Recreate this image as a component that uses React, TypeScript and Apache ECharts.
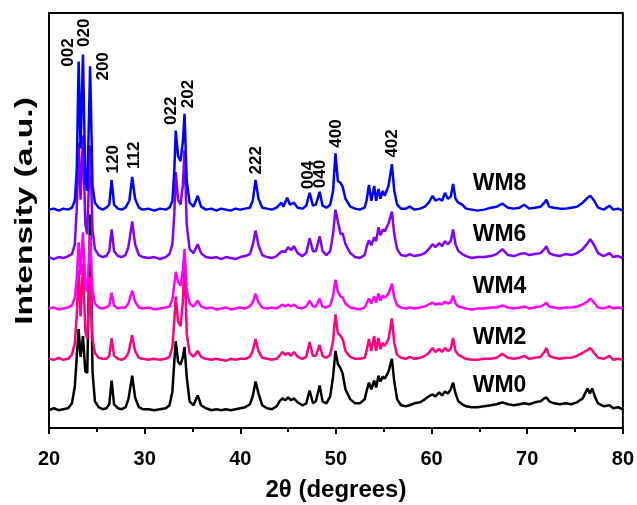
import React, { useEffect, useRef } from 'react';
import * as echarts from 'echarts';

// Samples, bottom to top
const samples = ['WM0', 'WM2', 'WM4', 'WM6', 'WM8'];
const colors = ['#000000', '#FF0080', '#FF00FF', '#8000FF', '#0000FF'];
const offsets = [17, 68, 120, 171, 220];

// [2θ, intensity above own baseline]
const wm0: number[][] = [[20,1],[20.5,3],[21,1],[21.5,2],[22,3],[22.4,8],[22.7,25],[22.9,55],[23.1,83],[23.3,55],[23.55,76],[23.8,40],[24.0,39],[24.3,199],[24.55,40],[24.8,10],[25.2,4],[25.6,2],[26.0,3],[26.3,7],[26.55,31],[26.8,7],[27.2,3],[27.6,2],[28.0,4],[28.3,12],[28.7,36],[29.0,14],[29.4,4],[29.8,2],[30.4,2],[31,1],[31.6,2],[32.2,3],[32.6,6],[32.9,20],[33.1,50],[33.25,71],[33.5,50],[33.75,47],[34.0,55],[34.17,65],[34.4,35],[34.7,10],[35.1,6],[35.55,16],[35.9,6],[36.4,3],[37,1],[37.5,2],[38,1],[38.5,2],[39,1],[39.5,2],[40,3],[40.5,4],[41,7],[41.3,15],[41.6,30],[41.9,18],[42.3,6],[42.8,3],[43.3,2],[43.8,5],[44.1,10],[44.4,13],[44.7,11],[45.0,14],[45.3,11],[45.6,13],[46,9],[46.5,6],[46.9,8],[47.25,21],[47.6,8],[47.9,10],[48.3,26],[48.6,10],[49,8],[49.4,15],[49.7,35],[49.95,61],[50.2,48],[50.5,43],[50.7,38],[51.0,22],[51.5,12],[52,8],[52.5,8],[53.0,12],[53.2,20],[53.45,29],[53.7,22],[54.0,31],[54.2,24],[54.45,36],[54.65,30],[54.9,35],[55.1,33],[55.5,40],[55.85,53],[56.1,30],[56.4,12],[56.8,6],[57.3,5],[57.7,6],[58.2,8],[58.8,9],[59.3,12],[59.7,15],[60.1,17],[60.4,15],[60.8,19],[61.1,16],[61.4,20],[61.7,18],[62,22],[62.25,29],[62.5,18],[62.8,10],[63.2,7],[63.6,5],[64.2,4],[64.8,4],[65.5,5],[66.2,6],[66.8,7],[67.4,9],[68,7],[68.6,6],[69.2,7],[69.7,8],[70.2,7],[70.8,9],[71.4,10],[71.8,13],[72.0,14],[72.3,10],[72.8,8],[73.4,7],[74,8],[74.6,7],[75.2,9],[75.8,13],[76.3,23],[76.55,18],[76.8,23],[77.1,14],[77.4,8],[78,5],[78.6,6],[79,3],[79.5,4],[80,2]];

const wm2: number[][] = [[20,2],[20.5,1],[21,3],[21.5,1],[22,2],[22.4,6],[22.7,18],[22.9,45],[23.1,92],[23.3,45],[23.55,98],[23.8,30],[24.0,22],[24.3,85],[24.55,22],[24.8,8],[25.2,3],[25.6,2],[26.0,2],[26.3,5],[26.55,23],[26.8,5],[27.2,2],[27.6,1],[28.0,3],[28.3,8],[28.7,26],[29.0,10],[29.4,3],[29.8,2],[30.4,1],[31,2],[31.6,1],[32.2,2],[32.6,4],[32.9,14],[33.1,40],[33.25,65],[33.5,40],[33.75,35],[34.0,60],[34.17,108],[34.4,28],[34.7,8],[35.1,4],[35.55,10],[35.9,4],[36.4,2],[37,1],[37.5,2],[38,1],[38.5,0],[39,2],[39.5,1],[40,2],[40.5,2],[41,4],[41.3,10],[41.6,22],[41.9,10],[42.3,3],[42.8,2],[43.3,1],[43.8,2],[44.1,5],[44.4,9],[44.7,6],[45.0,8],[45.3,5],[45.6,9],[46,4],[46.5,2],[46.9,4],[47.25,19],[47.6,5],[47.9,5],[48.3,16],[48.6,5],[49,3],[49.4,6],[49.7,20],[49.95,47],[50.2,28],[50.5,25],[50.7,22],[51.0,10],[51.5,4],[52,2],[52.5,2],[53.0,3],[53.2,10],[53.45,22],[53.7,10],[54.0,25],[54.2,10],[54.45,23],[54.65,12],[54.9,18],[55.1,15],[55.5,22],[55.85,43],[56.1,18],[56.4,6],[56.8,3],[57.3,2],[57.7,4],[58.2,2],[58.8,3],[59.3,5],[59.7,8],[60.1,13],[60.4,9],[60.8,12],[61.1,9],[61.4,13],[61.7,10],[62,12],[62.25,23],[62.5,10],[62.8,6],[63.2,4],[63.6,2],[64.2,1],[64.8,1],[65.5,2],[66.2,2],[66.8,3],[67.4,7],[68,3],[68.6,2],[69.2,3],[69.7,5],[70.2,2],[70.8,3],[71.4,4],[71.8,9],[72.0,13],[72.3,5],[72.8,3],[73.4,2],[74,3],[74.6,3],[75.2,5],[75.8,8],[76.3,11],[76.6,13],[77,8],[77.4,3],[78,2],[78.6,5],[79,1],[79.5,2],[80,1]];

const wm4: number[][] = [[20,1],[20.5,2],[21,0],[21.5,1],[22,2],[22.4,4],[22.7,12],[22.9,30],[23.1,68],[23.3,35],[23.55,78],[23.8,25],[24.0,18],[24.3,75],[24.55,20],[24.8,6],[25.2,2],[25.6,1],[26.0,2],[26.3,4],[26.55,17],[26.8,4],[27.2,1],[27.6,2],[28.0,2],[28.3,6],[28.7,19],[29.0,8],[29.4,2],[29.8,1],[30.4,2],[31,0],[31.6,1],[32.2,2],[32.6,3],[32.9,10],[33.1,25],[33.25,38],[33.5,28],[33.75,24],[34.0,40],[34.17,61],[34.4,20],[34.7,6],[35.1,3],[35.55,9],[35.9,3],[36.4,1],[37,2],[37.5,0],[38,1],[38.5,2],[39,0],[39.5,1],[40,2],[40.5,1],[41,3],[41.3,7],[41.6,16],[41.9,7],[42.3,2],[42.8,1],[43.3,2],[43.8,1],[44.1,3],[44.4,5],[44.7,3],[45.0,5],[45.3,3],[45.6,5],[46,2],[46.5,1],[46.9,3],[47.25,9],[47.6,3],[47.9,3],[48.3,11],[48.6,3],[49,2],[49.4,4],[49.7,14],[49.95,30],[50.2,18],[50.5,13],[50.7,12],[51.0,6],[51.5,2],[52,1],[52.5,0],[53.0,2],[53.2,6],[53.45,11],[53.7,6],[54.0,13],[54.2,7],[54.45,16],[54.65,9],[54.9,14],[55.1,12],[55.5,16],[55.85,26],[56.1,12],[56.4,4],[56.8,2],[57.3,1],[57.7,2],[58.2,1],[58.8,2],[59.3,3],[59.7,5],[60.1,7],[60.4,5],[60.8,6],[61.1,5],[61.4,8],[61.7,6],[62,7],[62.25,14],[62.5,6],[62.8,3],[63.2,2],[63.6,1],[64.2,0],[64.8,1],[65.5,1],[66.2,2],[66.8,2],[67.4,4],[68,2],[68.6,1],[69.2,2],[69.7,3],[70.2,1],[70.8,2],[71.4,3],[71.8,5],[72.0,7],[72.3,3],[72.8,2],[73.4,1],[74,2],[74.6,2],[75.2,3],[75.8,5],[76.3,8],[76.6,11],[77,7],[77.4,2],[78,1],[78.6,3],[79,1],[79.5,2],[80,1]];

const wm6: number[][] = [[20,2],[20.5,0],[21,2],[21.5,1],[22,3],[22.4,5],[22.7,15],[22.9,50],[23.1,118],[23.3,60],[23.55,125],[23.8,35],[24.0,25],[24.3,115],[24.55,30],[24.8,10],[25.2,4],[25.6,2],[26.0,3],[26.3,8],[26.55,30],[26.8,8],[27.2,3],[27.6,2],[28.0,4],[28.3,12],[28.7,38],[29.0,15],[29.4,4],[29.8,2],[30.4,1],[31,2],[31.6,0],[32.2,2],[32.6,5],[32.9,15],[33.1,45],[33.25,88],[33.5,60],[33.75,55],[34.0,75],[34.17,110],[34.4,35],[34.7,10],[35.1,6],[35.55,15],[35.9,6],[36.4,2],[37,1],[37.5,2],[38,0],[38.5,2],[39,1],[39.5,0],[40,2],[40.5,3],[41,5],[41.3,14],[41.6,29],[41.9,14],[42.3,4],[42.8,2],[43.3,1],[43.8,3],[44.1,6],[44.4,8],[44.7,7],[45.0,12],[45.3,9],[45.6,13],[46,6],[46.5,3],[46.9,6],[47.25,21],[47.6,8],[47.9,8],[48.3,23],[48.6,8],[49,4],[49.4,8],[49.7,25],[49.95,50],[50.2,38],[50.5,25],[50.7,26],[51.0,15],[51.5,6],[52,2],[52.5,1],[53.0,4],[53.2,12],[53.45,19],[53.7,14],[54.0,22],[54.2,18],[54.45,32],[54.65,24],[54.9,30],[55.1,28],[55.5,36],[55.85,48],[56.1,25],[56.4,10],[56.8,4],[57.3,3],[57.7,5],[58.2,3],[58.8,4],[59.3,6],[59.7,10],[60.1,15],[60.4,12],[60.8,16],[61.1,13],[61.4,18],[61.7,15],[62,18],[62.25,30],[62.5,15],[62.8,8],[63.2,5],[63.6,3],[64.2,1],[64.8,2],[65.5,2],[66.2,3],[66.8,5],[67.4,10],[68,4],[68.6,3],[69.2,5],[69.7,6],[70.2,4],[70.8,5],[71.4,6],[71.8,10],[72.0,13],[72.3,6],[72.8,4],[73.4,3],[74,5],[74.6,4],[75.2,6],[75.8,10],[76.3,16],[76.6,20],[77,14],[77.4,6],[78,3],[78.6,6],[79,2],[79.5,3],[80,1]];

const wm8: number[][] = [[20,1],[20.5,2],[21,0],[21.5,2],[22,1],[22.4,3],[22.7,10],[22.9,40],[23.1,151],[23.3,63],[23.55,158],[23.8,30],[24.0,20],[24.3,146],[24.55,25],[24.8,8],[25.2,3],[25.6,1],[26.0,3],[26.3,6],[26.55,31],[26.8,6],[27.2,2],[27.6,1],[28.0,3],[28.4,10],[28.7,34],[29.0,12],[29.4,3],[29.8,1],[30.4,2],[31,0],[31.6,2],[32.2,1],[32.6,3],[32.9,10],[33.1,40],[33.25,81],[33.5,55],[33.75,50],[34.0,70],[34.17,98],[34.4,30],[34.7,8],[35.1,4],[35.55,15],[35.9,4],[36.4,1],[37,2],[37.5,0],[38,2],[38.5,1],[39,0],[39.5,2],[40,1],[40.5,2],[41,3],[41.3,10],[41.6,31],[41.9,12],[42.3,3],[42.8,2],[43.3,1],[43.8,3],[44.1,6],[44.3,8],[44.5,4],[44.9,13],[45.2,6],[45.6,8],[46,3],[46.5,2],[46.9,5],[47.25,18],[47.6,5],[47.9,6],[48.3,19],[48.6,5],[49,3],[49.4,6],[49.7,20],[49.95,58],[50.2,30],[50.5,28],[50.7,24],[51.0,12],[51.5,4],[52,2],[52.5,1],[53.0,3],[53.2,10],[53.45,26],[53.7,10],[54.0,25],[54.2,10],[54.45,22],[54.65,12],[54.9,20],[55.1,15],[55.5,25],[55.85,47],[56.1,20],[56.4,6],[56.8,2],[57.3,2],[57.7,4],[58.2,1],[58.8,2],[59.3,4],[59.7,8],[60.1,15],[60.4,10],[60.8,12],[61.1,10],[61.4,18],[61.7,12],[62,14],[62.25,27],[62.5,12],[62.8,8],[63.2,6],[63.6,2],[64.2,1],[64.8,0],[65.5,1],[66.2,3],[66.8,4],[67.4,7],[68,3],[68.6,2],[69.2,3],[69.7,6],[70.2,2],[70.8,3],[71.4,4],[71.8,8],[72.0,11],[72.3,4],[72.8,3],[73.4,2],[74,2],[74.6,3],[75.2,4],[75.8,8],[76.3,13],[76.6,15],[77,10],[77.4,3],[78,1],[78.6,5],[79,1],[79.5,2],[80,0]];

const traces = [wm0, wm2, wm4, wm6, wm8];

// Miller-index annotations
const peakLabels = ['002', '020', '200', '120', '112', '022', '202', '222', '004', '040', '400', '402'];
const peakLabelX = [21.98, 23.65, 25.63, 26.67, 28.85, 32.71, 34.48, 41.56, 46.98, 48.23, 50.0, 55.83];
const peakLabelY = [380, 400, 366, 272, 276, 321, 338, 271, 256, 257, 298, 288];

const sampleLabelX = 64.3;
const sampleLabelY = [45, 93, 145, 197, 249];

const xTicks = [20, 30, 40, 50, 60, 70, 80];

const FONT = '"Liberation Sans", Arial, sans-serif';

export default function App() {
  const ref = useRef<HTMLDivElement>(null);
  useEffect(() => {
    if (!ref.current) return;
    const chart = echarts.init(ref.current, undefined, { renderer: 'svg' });
    const lineSeries = traces.map((t, i) => ({
      type: 'line',
      name: samples[i],
      data: t.map(([x, y]) => [x, y + offsets[i]]),
      showSymbol: false,
      symbol: 'none',
      lineStyle: { color: colors[i], width: 2.5 },
      itemStyle: { color: colors[i] },
      z: 2 + i,
    }));
    const option: any = {
      animation: false,
      grid: { left: 49, right: 12, top: 13, bottom: 72, show: true, borderColor: '#000', borderWidth: 2, backgroundColor: 'transparent' },
      xAxis: {
        type: 'value', min: xTicks[0], max: xTicks[xTicks.length - 1], interval: 10,
        name: '2θ (degrees)', nameLocation: 'middle', nameGap: 48,
        nameTextStyle: { fontFamily: FONT, fontWeight: 'bold', fontSize: 24, color: '#000' },
        axisLine: { show: true, onZero: false, lineStyle: { color: '#000', width: 2 } },
        axisTick: { show: true, inside: false, length: 6, lineStyle: { color: '#000', width: 2 } },
        minorTick: { show: true, splitNumber: 2, length: 4, lineStyle: { color: '#000', width: 2 } },
        axisLabel: { fontFamily: FONT, fontWeight: 'bold', fontSize: 20, color: '#000', margin: 20 },
        splitLine: { show: false },
      },
      yAxis: {
        type: 'value', min: 0, max: 420,
        axisLine: { show: false }, axisTick: { show: false }, axisLabel: { show: false }, splitLine: { show: false },
      },
      graphic: [{
        type: 'text', x: 24, y: 211, rotation: Math.PI / 2, scaleX: 1.4,
        style: { text: 'Intensity (a.u.)', font: `bold 24px ${FONT}`, fill: '#000', textAlign: 'center', textVerticalAlign: 'middle', align: 'center', verticalAlign: 'middle' },
      }],
      series: [
        ...lineSeries,
        {
          type: 'scatter', symbolSize: 1, itemStyle: { color: 'transparent', opacity: 1 }, z: 20,
          data: peakLabels.map((n, i) => ({ name: n, value: [peakLabelX[i], peakLabelY[i]] })),
          label: { show: true, position: 'inside', rotate: 90, formatter: '{b}', fontFamily: FONT, fontWeight: 'bold', fontSize: 17, color: '#000', opacity: 1, align: 'center', verticalAlign: 'middle' },
          silent: true,
        },
        {
          type: 'scatter', symbolSize: 1, itemStyle: { color: 'transparent', opacity: 1 }, z: 20,
          data: samples.map((n, i) => ({ name: n, value: [sampleLabelX, sampleLabelY[i]] })),
          label: { show: true, position: 'inside', formatter: '{b}', fontFamily: FONT, fontWeight: 'bold', fontSize: 23, color: '#000', opacity: 1, align: 'left', verticalAlign: 'middle' },
          silent: true,
        },
      ],
    };
    chart.setOption(option);
    return () => chart.dispose();
  }, []);
  return <div ref={ref} style={{ position: 'fixed', left: 0, top: 0, width: 637, height: 505 }} />;
}
